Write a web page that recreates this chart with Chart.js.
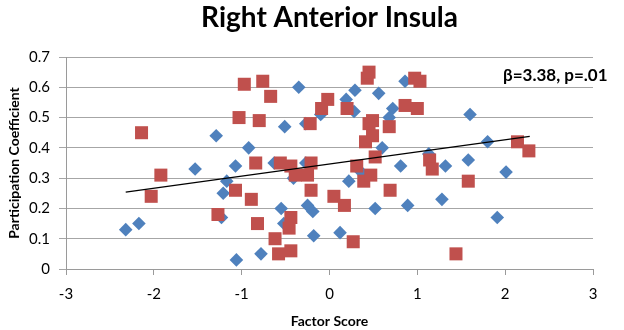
<!DOCTYPE html>
<html>
<head>
<meta charset="utf-8">
<script src="https://cdn.jsdelivr.net/npm/chart.js@4"></script>
<style>
  html, body { margin: 0; padding: 0; background: #fff; }
  #wrap { width: 624px; height: 330px; }
</style>
</head>
<body>
<div id="wrap"><canvas id="insulaChart" width="624" height="330"></canvas></div>
<script>
// blue diamonds
const blueX = [-2.32, -2.17, -1.53, -1.29, -1.17, -1.21, -1.23, -1.07, -1.06, -0.92, -0.78, -0.63, -0.55, -0.52, -0.51,
    -0.41, -0.35, -0.27, -0.27, -0.25, -0.19, -0.18, -0.10, 0.12, 0.19, 0.22, 0.28, 0.29, 0.36, 0.52, 0.56, 0.60,
    0.68, 0.72, 0.81, 0.86, 0.89, 1.13, 1.28, 1.32, 1.58, 1.60, 1.80, 1.91, 2.01];
const blueY = [0.13, 0.15, 0.33, 0.44, 0.29, 0.25, 0.17, 0.34, 0.03, 0.40, 0.05, 0.35, 0.20, 0.15, 0.47,
    0.30, 0.60, 0.48, 0.35, 0.21, 0.19, 0.11, 0.51, 0.12, 0.56, 0.29, 0.52, 0.59, 0.32, 0.20, 0.58, 0.40,
    0.50, 0.53, 0.34, 0.62, 0.21, 0.38, 0.23, 0.34, 0.36, 0.51, 0.42, 0.17, 0.32];

// red squares
const redX = [-2.14, -2.03, -1.92, -1.27, -1.07, -1.03, -0.97, -0.89, -0.84, -0.82, -0.80, -0.76, -0.67, -0.62, -0.58,
    -0.56, -0.46, -0.44, -0.44, -0.44, -0.39, -0.25, -0.22, -0.21, -0.21, -0.09, -0.02, 0.05, 0.17, 0.20, 0.27,
    0.31, 0.39, 0.41, 0.43, 0.45, 0.45, 0.47, 0.49, 0.49, 0.52, 0.68, 0.69, 0.86, 0.97, 1.00, 1.03, 1.14, 1.17,
    1.44, 1.58, 2.14, 2.27];
const redY = [0.45, 0.24, 0.31, 0.18, 0.26, 0.50, 0.61, 0.23, 0.35, 0.15, 0.49, 0.62, 0.57, 0.10, 0.05,
    0.35, 0.135, 0.34, 0.17, 0.06, 0.31, 0.31, 0.48, 0.35, 0.26, 0.53, 0.56, 0.24, 0.21, 0.53, 0.09,
    0.34, 0.29, 0.42, 0.63, 0.65, 0.48, 0.31, 0.44, 0.49, 0.37, 0.47, 0.26, 0.54, 0.63, 0.53, 0.62, 0.36, 0.33,
    0.05, 0.29, 0.42, 0.39];

// fitted line end points
const trendX = [-2.32, 2.28];
const trendY = [0.254, 0.438];

const chartTitle = 'Right Anterior Insula';
const statLabel = 'β=3.38, p=.01';

function toPoints(xs, ys) {
    return xs.map((x, i) => ({ x: x, y: ys[i] }));
}

// title (centred over the plot area, like the original) and the stats note
const extraText = {
    id: 'extraText',
    afterDraw(chart) {
        const ctx = chart.ctx;
        const area = chart.chartArea;
        ctx.save();
        ctx.fillStyle = '#000';
        ctx.textBaseline = 'alphabetic';
        ctx.font = 'bold 28px Lato';
        ctx.textAlign = 'center';
        ctx.fillText(chartTitle, (area.left + area.right) / 2, 27);
        ctx.font = 'bold 17px Lato';
        ctx.textAlign = 'left';
        ctx.fillText(statLabel, 503, 81);
        ctx.restore();
    }
};

const ctx = document.getElementById('insulaChart').getContext('2d');
const chart = new Chart(ctx, {
    type: 'scatter',
    data: {
        datasets: [
            {
                type: 'line',
                data: toPoints(trendX, trendY),
                borderColor: '#000',
                borderWidth: 1.3,
                pointRadius: 0,
                fill: false
            },
            {
                data: toPoints(redX, redY),
                pointStyle: 'rect',
                pointRadius: 9.2,
                backgroundColor: '#C0504D',
                borderColor: '#C0504D',
                borderWidth: 0
            },
            {
                data: toPoints(blueX, blueY),
                pointStyle: 'rectRot',
                pointRadius: 6.8,
                backgroundColor: '#4F81BD',
                borderColor: '#4F81BD',
                borderWidth: 0
            }
        ]
    },
    options: {
        responsive: false,
        animation: false,
        layout: { padding: { left: 0, right: 31, top: 57, bottom: 0 } },
        plugins: {
            legend: { display: false },
            tooltip: { enabled: false },
            title: { display: false }
        },
        scales: {
            x: {
                type: 'linear',
                min: -3,
                max: 3,
                afterFit: function (scale) { scale.height = 61; },
                ticks: {
                    stepSize: 1,
                    color: '#000',
                    font: { family: 'Lato', size: 15 },
                    padding: 10
                },
                grid: {
                    drawOnChartArea: false,
                    drawTicks: true,
                    tickLength: 6,
                    color: '#9a9a9a'
                },
                border: { color: '#9a9a9a' },
                title: {
                    display: true,
                    text: 'Factor Score',
                    color: '#000',
                    font: { family: 'Lato', size: 14, weight: 'bold' },
                    padding: { top: 2, bottom: 0 }
                }
            },
            y: {
                min: 0,
                max: 0.7,
                afterFit: function (scale) { scale.width = 66; },
                ticks: {
                    stepSize: 0.1,
                    color: '#000',
                    font: { family: 'Lato', size: 15 },
                    padding: 9,
                    callback: function (v) { return Math.round(v * 10) / 10; }
                },
                grid: {
                    color: '#a6a6a6',
                    tickLength: 7,
                    lineWidth: 1
                },
                border: { color: '#9a9a9a' },
                title: {
                    display: true,
                    text: 'Participation Coefficient',
                    color: '#000',
                    font: { family: 'Lato', size: 14, weight: 'bold' },
                    padding: { top: 6, bottom: 4 }
                }
            }
        }
    },
    plugins: [extraText]
});
</script>
</body>
</html>
